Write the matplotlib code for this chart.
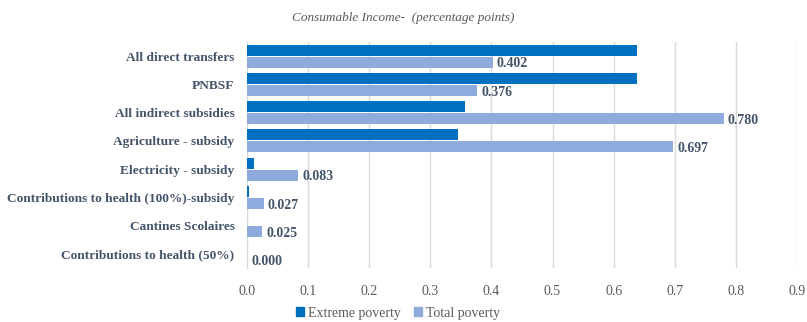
import matplotlib
matplotlib.use("Agg")
import matplotlib.pyplot as plt
import numpy as np
from matplotlib.patches import Patch

categories = [
    "All direct transfers",
    "PNBSF",
    "All indirect subsidies",
    "Agriculture - subsidy",
    "Electricity - subsidy",
    "Contributions to health (100%)-subsidy",
    "Cantines Scolaires",
    "Contributions to health (50%)",
]
extreme_poverty = [0.638, 0.638, 0.357, 0.346, 0.011, 0.003, 0.0, 0.0]
total_poverty = [0.402, 0.376, 0.780, 0.697, 0.083, 0.027, 0.025, 0.000]
x_ticks = [0.0, 0.1, 0.2, 0.3, 0.4, 0.5, 0.6, 0.7, 0.8, 0.9]

dark = "#0070C0"
light = "#8FAADC"
label_color = "#44546A"
tick_color = "#595959"
serif = ["Liberation Serif", "DejaVu Serif"]

fig = plt.figure(figsize=(8.07, 3.22), dpi=100)
ax = fig.add_axes([247 / 807, 1 - 268 / 322, (797 - 247) / 807, (268 - 42) / 322])

y = np.arange(len(categories))
h = 0.39
ax.barh(y - 0.21, extreme_poverty, height=h, color=dark, zorder=3)
ax.barh(y + 0.21, total_poverty, height=h, color=light, zorder=3)

for yi, v in zip(y, total_poverty):
    ax.text(v + 0.007, yi + 0.27, f"{v:.3f}", va="center", ha="left",
            fontsize=10, fontweight="bold", color=label_color, family=serif)

ax.set_xlim(0, 0.9)
ax.set_ylim(len(categories) - 0.5, -0.5)
ax.set_xticks(x_ticks)
ax.set_xticklabels([f"{t:.1f}" for t in x_ticks], family=serif, fontsize=10, color=tick_color)
ax.set_yticks(y)
ax.set_yticklabels(categories, family=serif, fontsize=9.6, fontweight="bold", color=label_color)
ax.tick_params(axis="both", length=0)
ax.tick_params(axis="y", pad=9)
ax.tick_params(axis="x", pad=12)

ax.grid(axis="x", color="#D9D9D9", linewidth=1, zorder=0)
for s in ["top", "right", "bottom"]:
    ax.spines[s].set_visible(False)
ax.spines["left"].set_color("#D9D9D9")

fig.text(0.5, 1 - 18 / 322, "Consumable Income-  (percentage points)", ha="center", va="center",
         fontsize=9.5, style="italic", color=tick_color, family=serif)

handles = [Patch(color=dark, label="Extreme poverty"), Patch(color=light, label="Total poverty")]
fig.legend(handles=handles, loc="center", bbox_to_anchor=(398 / 807, 1 - 313 / 322), ncol=2,
           frameon=False, prop={"family": serif, "size": 10}, handlelength=0.6, handleheight=0.6,
           columnspacing=0.9, handletextpad=0.3, labelcolor=tick_color)

fig.savefig("out.png", dpi=100)
